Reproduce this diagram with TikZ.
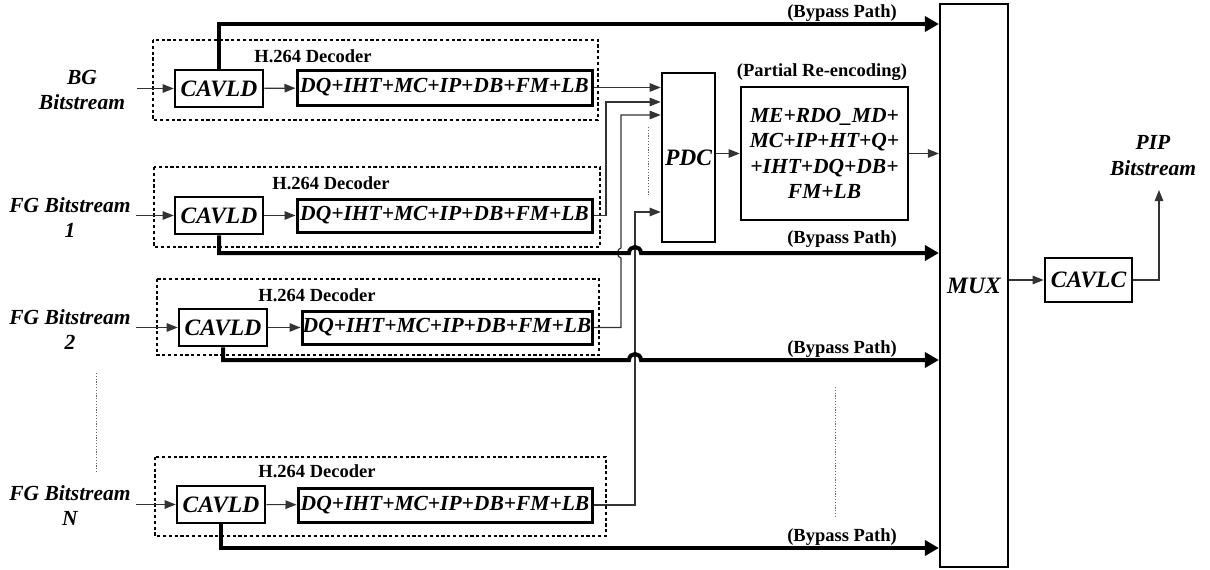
\documentclass[tikz,border=0pt]{standalone}
\usepackage{fontspec}
\setmainfont{Liberation Serif}
\usetikzlibrary{arrows.meta}
\newcommand\blkfnt{\fontsize{21.5}{25.5}\selectfont\bfseries\itshape}
\newcommand\bigfnt{\fontsize{23.5}{26}\selectfont\bfseries\itshape}
\newcommand\lblfnt{\fontsize{18.5}{20}\selectfont\bfseries}
\begin{document}
\begin{tikzpicture}[x=1pt,y=-1pt,
  blk/.style={draw, line width=2.6pt, inner sep=0pt, font=\blkfnt, align=center},
  decbox/.style={draw, line width=2.6pt, dash pattern=on 3.2pt off 2.6pt},
  conn/.style={draw=black!80, line width=1.2pt, -{Triangle[length=11pt,width=8.5pt]}},
  bypass/.style={line width=4pt, -{Triangle[length=14pt,width=15pt]}},
  dots/.style={draw=black!60, line width=1pt, dash pattern=on 1.2pt off 1.6pt},
  inlbl/.style={font=\blkfnt, align=center, inner sep=0pt},
  tag/.style={font=\lblfnt, inner sep=0pt}]
\useasboundingbox (0,0) rectangle (1210,570);

% dashed decoder frames
\draw[decbox] (153,40) rectangle (598,120);
\draw[decbox] (154,167) rectangle (600,247);
\draw[decbox] (157,279) rectangle (599,355);
\draw[decbox] (155,457) rectangle (606,536);
\node[tag] (h1) at (313,56) {H.264 Decoder};
\node[tag] (h2) at (331,183) {H.264 Decoder};
\node[tag] (h3) at (317,295) {H.264 Decoder};
\node[tag] (h4) at (317,471) {H.264 Decoder};

% CAVLD blocks
\node[blk, font=\bigfnt, minimum width=88pt, minimum height=37pt] (c1) at (219,88.5) {CAVLD};
\node[blk, font=\bigfnt, minimum width=88pt, minimum height=37pt] (c2) at (219,215.5) {CAVLD};
\node[blk, font=\bigfnt, minimum width=88pt, minimum height=37pt] (c3) at (223,327.5) {CAVLD};
\node[blk, font=\bigfnt, minimum width=88pt, minimum height=37pt] (c4) at (221,504.5) {CAVLD};

% DQ blocks
\node[blk, line width=3pt, minimum width=295pt, minimum height=35pt] (d1) at (444.5,87.5) {DQ+IHT+MC+IP+DB+FM+LB};
\node[blk, line width=3pt, minimum width=295pt, minimum height=33pt] (d2) at (444.5,215.5) {DQ+IHT+MC+IP+DB+FM+LB};
\node[blk, line width=3pt, minimum width=290pt, minimum height=33pt] (d3) at (447,327.5) {DQ+IHT+MC+IP+DB+FM+LB};
\node[blk, line width=3pt, minimum width=294pt, minimum height=34pt] (d4) at (445,505) {DQ+IHT+MC+IP+DB+FM+LB};

% input labels
\node[inlbl] (i1) at (82,90) {BG\\Bitstream};
\node[inlbl] (i2) at (70,217.5) {FG Bitstream\\1};
\node[inlbl] (i3) at (70,329.5) {FG Bitstream\\2};
\node[inlbl] (i4) at (70,505.5) {FG Bitstream\\N};
\coordinate (s1) at (137,88.5);
\coordinate (s2) at (136,215.5);
\coordinate (s3) at (136,327.5);
\coordinate (s4) at (136,504.5);
\draw[conn] (s1) -- (c1.west);
\draw[conn] (s2) -- (c2.west);
\draw[conn] (s3) -- (c3.west);
\draw[conn] (s4) -- (c4.west);
\draw[conn] (c1) -- (d1);
\draw[conn] (c2) -- (d2);
\draw[conn] (c3) -- (d3);
\draw[conn] (c4) -- (d4);

% PDC, re-encoder, MUX, CAVLC
\node[blk, font=\bigfnt, minimum width=53pt, minimum height=169pt] (pdc) at (688.5,157.5) {PDC};
\node[tag] (pr) at (822,72) {(Partial Re-encoding)};
\node[blk, minimum width=167pt, minimum height=133pt] (re) at (824.5,153.5) {ME+RDO\_MD+\\MC+IP+HT+Q+\\+IHT+DQ+DB+\\FM+LB};
\node[blk, font=\bigfnt, line width=2.2pt, minimum width=68pt, minimum height=563pt] (mux) at (974,285.5) {MUX};
\node[blk, font=\bigfnt, minimum width=87pt, minimum height=44pt] (cavlc) at (1088.5,280) {CAVLC};
\node[inlbl] (pip) at (1153,155.5) {PIP\\Bitstream};

% decoder outputs to PDC
\draw[conn] (d1.east) -- (d1.east -| pdc.west);
\coordinate (p2) at (606,102);
\draw[conn] (d2.east) -- (d2.east -| p2) -- (p2) -- (p2 -| pdc.west);
\coordinate (p3) at (621,115);
\draw[conn] (d3.east) -- (d3.east -| p3) -- (621,258) .. controls (616.5,258) and (616.5,248) .. (621,248) -- (p3) -- (p3 -| pdc.west);
\coordinate (p4) at (635,212);
\draw[conn] (d4.east) -- (d4.east -| p4) -- (p4) -- (p4 -| pdc.west);
\draw[dots] (648,127) -- (648,195);

\draw[conn] (pdc.east |- re.west) -- (re.west);
\draw[conn] (re.east) -- (re.east -| mux.west);
\draw[conn] (cavlc.west -| mux.east) -- (cavlc.west);
\coordinate (out) at (1159,190);
\draw[conn] (cavlc.east) -- (cavlc.east -| out) -- (out);

% bypass paths
\coordinate (b1) at (219,24);
\coordinate (b2) at (219,253);
\coordinate (b3) at (223,360);
\coordinate (b4) at (221,548);
\draw[bypass] (c1.north) -- (b1) -- (b1 -| mux.west);
\draw[bypass] (c2.south) -- (b2) -- (629,253) .. controls (629.5,245) and (640.5,245) .. (641,253) -- (b2 -| mux.west);
\draw[bypass] (c3.south) -- (b3) -- (629,360) .. controls (629.5,352) and (640.5,352) .. (641,360) -- (b3 -| mux.west);
\draw[bypass] (c4.south) -- (b4) -- (b4 -| mux.west);
\node[tag] (bp1) at (842,13) {(Bypass Path)};
\node[tag] (bp2) at (842,239) {(Bypass Path)};
\node[tag] (bp3) at (842,349) {(Bypass Path)};
\node[tag] (bp4) at (842,537) {(Bypass Path)};

% ellipsis dots
\draw[dots] (96,373) -- (96,473);
\draw[dots] (835,387) -- (835,516);
\end{tikzpicture}
\end{document}
